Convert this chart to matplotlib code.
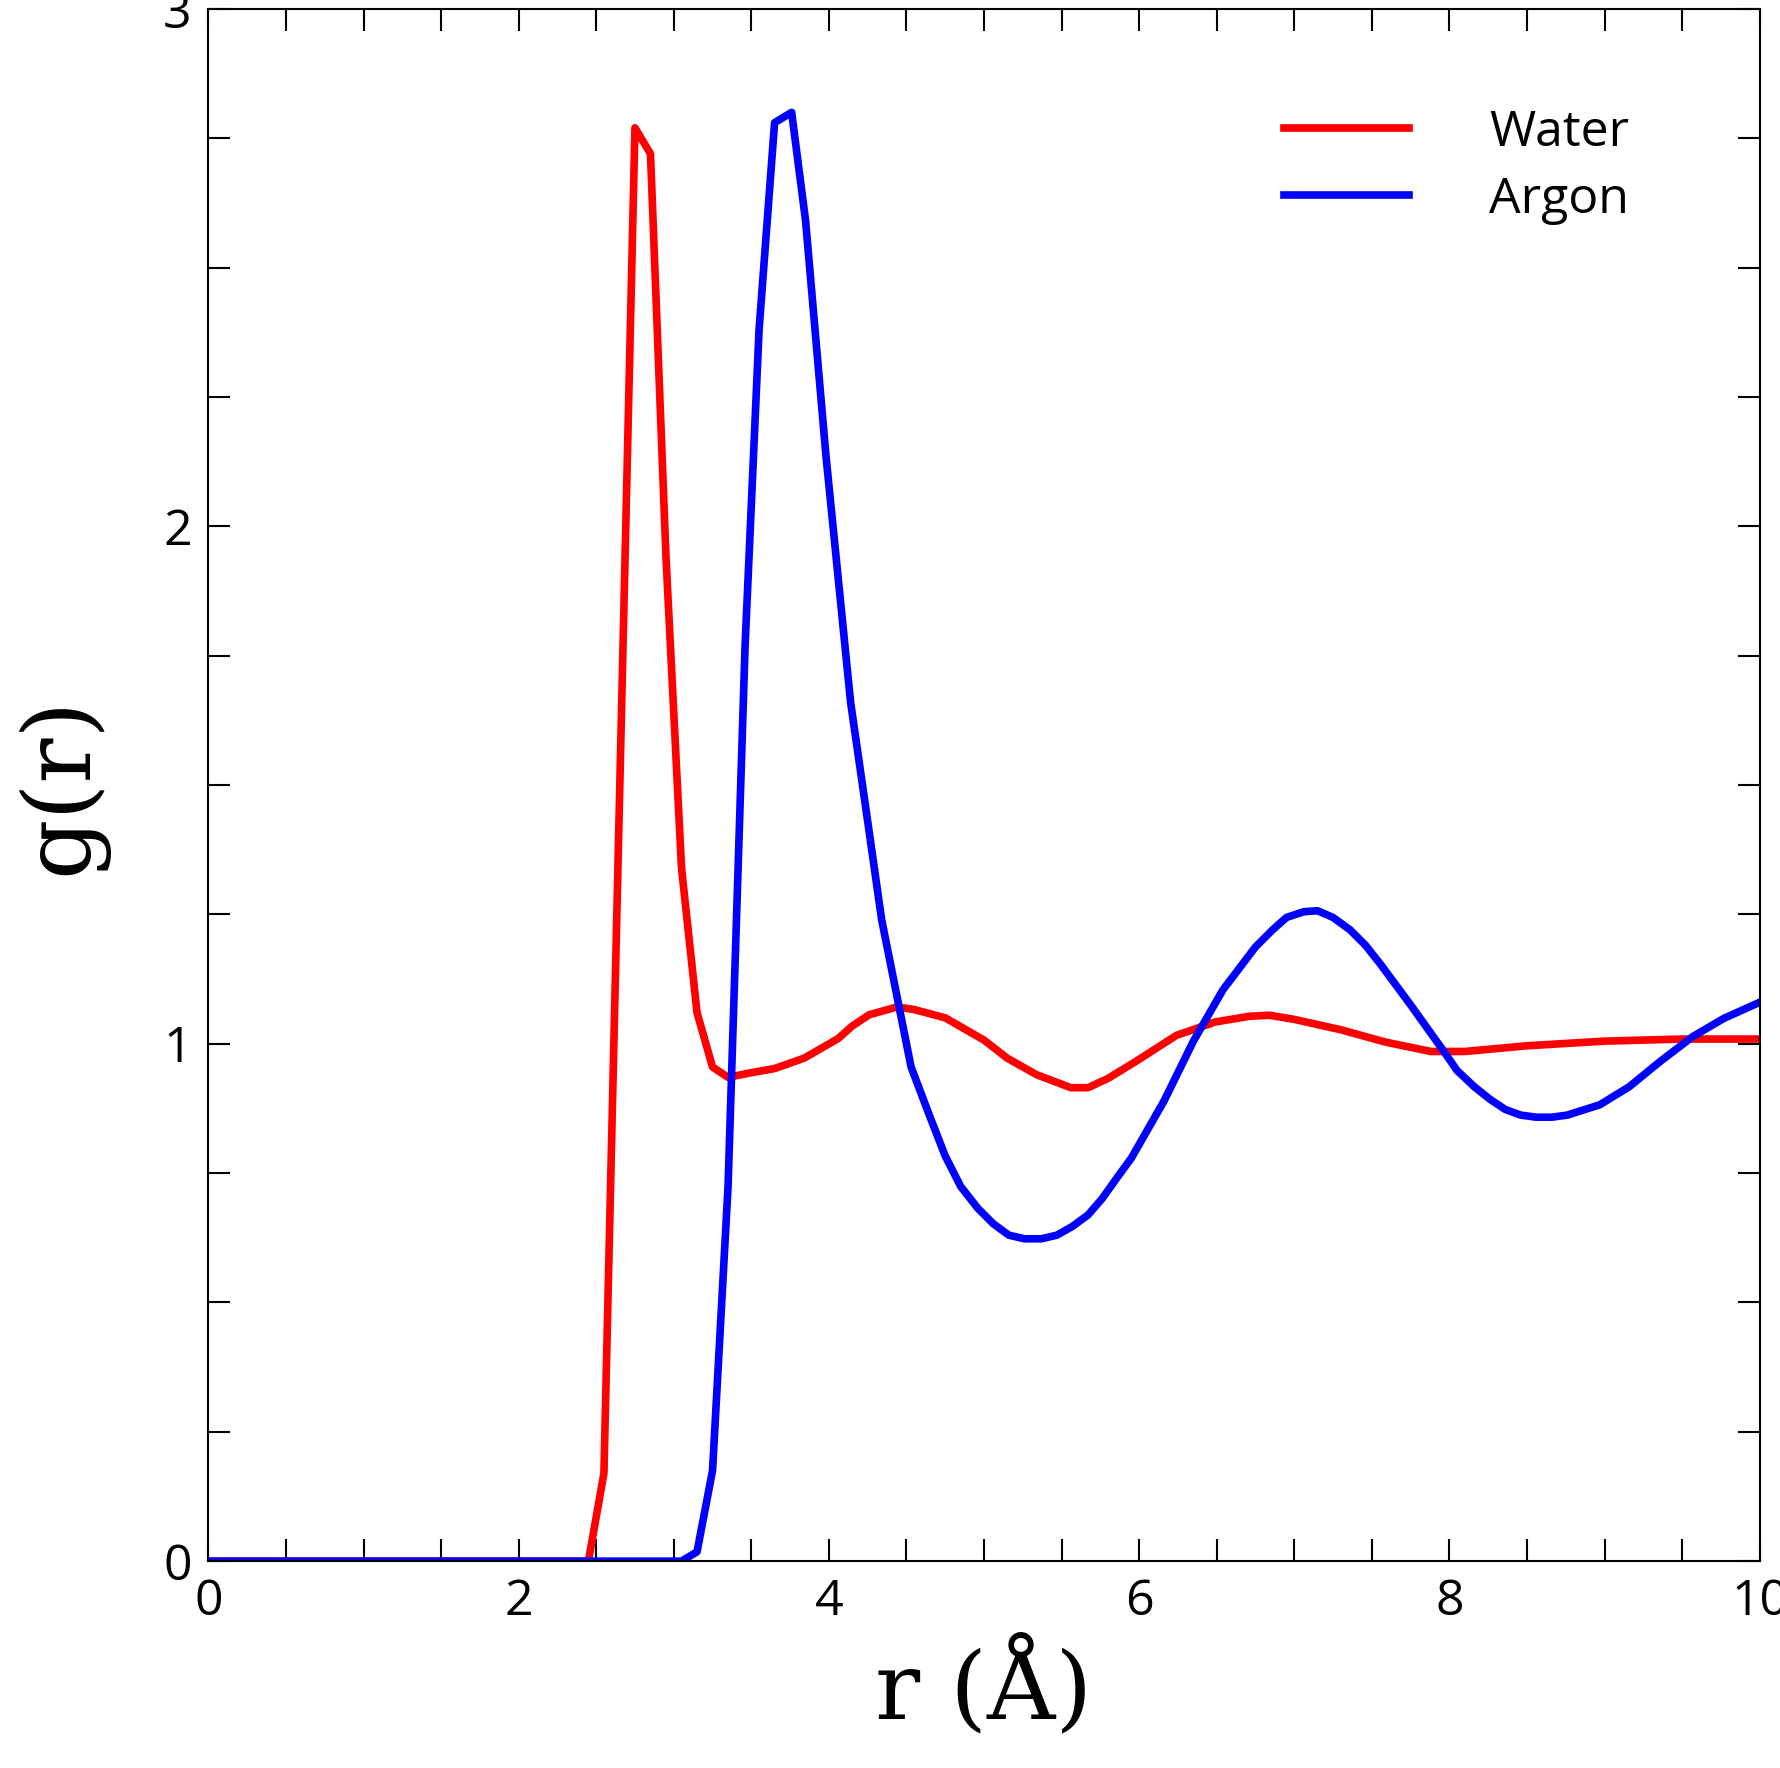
import matplotlib
matplotlib.use("Agg")
import matplotlib.pyplot as plt
from matplotlib.ticker import MultipleLocator

water_r = [0, 2.45, 2.55, 2.75, 2.85, 2.95, 3.05, 3.15, 3.25, 3.35, 3.5, 3.65, 3.84, 4.06, 4.15, 4.26, 4.44, 4.55, 4.75, 5.0, 5.15, 5.34, 5.56, 5.67, 5.8, 5.98, 6.24, 6.49, 6.71, 6.84, 7.0, 7.3, 7.59, 7.88, 8.1, 8.5, 9.0, 9.5, 10.0]
water_g = [0, 0, 0.17, 2.77, 2.72, 1.94, 1.34, 1.06, 0.955, 0.935, 0.944, 0.952, 0.972, 1.01, 1.034, 1.056, 1.071, 1.066, 1.05, 1.007, 0.972, 0.94, 0.915, 0.915, 0.933, 0.966, 1.016, 1.042, 1.053, 1.055, 1.047, 1.027, 1.003, 0.985, 0.985, 0.996, 1.005, 1.009, 1.009]
argon_r = [0, 3.05, 3.15, 3.25, 3.35, 3.46, 3.55, 3.65, 3.76, 3.85, 3.98, 4.14, 4.25, 4.34, 4.53, 4.65, 4.75, 4.85, 4.96, 5.06, 5.16, 5.26, 5.37, 5.47, 5.57, 5.67, 5.76, 5.86, 5.95, 6.16, 6.35, 6.54, 6.75, 6.86, 6.95, 7.06, 7.15, 7.25, 7.36, 7.46, 7.56, 7.75, 7.96, 8.05, 8.16, 8.26, 8.36, 8.46, 8.56, 8.66, 8.76, 8.97, 9.16, 9.36, 9.57, 9.77, 10.0]
argon_g = [0, 0, 0.018, 0.175, 0.724, 1.77, 2.38, 2.78, 2.80, 2.59, 2.14, 1.66, 1.43, 1.24, 0.955, 0.86, 0.783, 0.724, 0.682, 0.652, 0.63, 0.623, 0.623, 0.63, 0.647, 0.669, 0.70, 0.742, 0.779, 0.889, 1.005, 1.104, 1.187, 1.22, 1.244, 1.255, 1.257, 1.244, 1.22, 1.19, 1.152, 1.075, 0.987, 0.948, 0.917, 0.893, 0.873, 0.862, 0.858, 0.858, 0.862, 0.882, 0.917, 0.966, 1.014, 1.049, 1.08]

fig = plt.figure(figsize=(17.81, 17.68), dpi=100)
ax = fig.add_axes([0.117, 0.117, 0.871, 0.878])
ax.plot(water_r, water_g, color="#ff0000", lw=5.5, label="Water")
ax.plot(argon_r, argon_g, color="#0000ff", lw=5.5, label="Argon")
ax.set_xlim(0, 10)
ax.set_ylim(0, 3)
ax.xaxis.set_major_locator(MultipleLocator(2))
ax.xaxis.set_minor_locator(MultipleLocator(0.5))
ax.yaxis.set_major_locator(MultipleLocator(1))
ax.yaxis.set_minor_locator(MultipleLocator(0.25))
ax.tick_params(which="both", direction="in", top=True, right=True, width=1.5, labelsize=36, pad=12, length=16)
for lab in ax.get_xticklabels() + ax.get_yticklabels():
    lab.set_family("Open Sans")
for s in ax.spines.values():
    s.set_linewidth(1.5)
ax.set_xlabel("r (Å)", family="DejaVu Serif", fontsize=68, labelpad=6)
ax.set_ylabel("g(r)", family="DejaVu Serif", fontsize=68, labelpad=40)
ax.legend(loc="upper right", bbox_to_anchor=(0.945, 0.965), frameon=False,
          prop={"family": "Open Sans", "size": 36}, handlelength=2.5, handletextpad=1.6, labelspacing=0.35)
fig.savefig("out.png", dpi=100)
